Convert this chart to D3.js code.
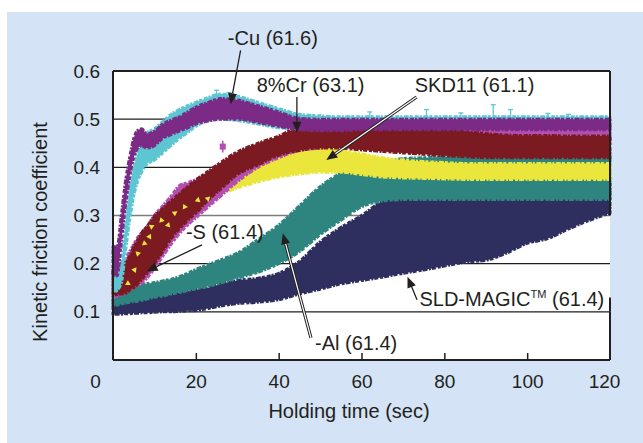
<!DOCTYPE html>
<html><head><meta charset="utf-8">
<script src="https://cdn.jsdelivr.net/npm/d3@7"></script>
<style>
body{margin:0;background:#fff}
svg{display:block}
text{font-family:"Liberation Sans",Arial,Helvetica,sans-serif;fill:#231f20}
</style></head>
<body><svg id="c" width="643" height="443"></svg>
<script>
// ---- data (time in sec, kinetic friction coefficient) ----
const timeSec = [0,1,2,3,4,5,6,7,8,10,12,14,16,18,20,23,26,30,35,40,45,50,55,60,65,70,75,80,85,90,95,100,105,110,115,120];

const sldLo = [.095,.095,.095,.096,.096,.097,.097,.098,.098,.099,.100,.100,.101,.102,.103,.107,.112,.117,.120,.125,.137,.147,.158,.165,.172,.180,.187,.195,.203,.207,.222,.242,.252,.272,.290,.305];
const sldHi = [.125,.125,.126,.127,.128,.128,.129,.130,.130,.132,.134,.136,.140,.143,.146,.150,.158,.165,.170,.180,.205,.245,.275,.300,.330,.350,.360,.365,.370,.370,.370,.370,.370,.370,.370,.370];

const alLo = [.113,.114,.116,.118,.120,.121,.122,.124,.126,.130,.133,.137,.140,.144,.148,.153,.160,.170,.182,.200,.225,.260,.290,.318,.330,.333,.333,.333,.333,.333,.333,.333,.333,.333,.333,.333];
const alHi = [.148,.148,.149,.150,.151,.152,.154,.156,.158,.161,.164,.168,.173,.180,.188,.198,.208,.222,.250,.280,.320,.360,.388,.405,.412,.418,.420,.422,.423,.424,.424,.425,.425,.425,.425,.425];

const skdLo = [.130,.135,.140,.145,.155,.165,.180,.195,.205,.225,.240,.255,.270,.285,.310,.330,.345,.357,.370,.380,.386,.390,.390,.385,.380,.378,.377,.376,.375,.375,.375,.375,.375,.375,.375,.375];
const skdHi = [.160,.165,.175,.185,.200,.215,.230,.245,.255,.275,.290,.305,.320,.330,.350,.368,.385,.400,.415,.428,.440,.442,.435,.428,.420,.415,.412,.410,.408,.408,.408,.408,.408,.408,.408,.408];

const sLo = [.130,.132,.135,.140,.145,.150,.155,.160,.168,.190,.215,.240,.262,.280,.295,.318,.340,.370,.400,.420,.435,.440,.445,.447,.450,.452,.453,.455,.455,.456,.456,.457,.457,.457,.457,.457];
const sHi = [.190,.195,.200,.210,.225,.240,.255,.265,.275,.300,.320,.340,.362,.368,.375,.390,.405,.425,.445,.460,.470,.475,.478,.480,.482,.483,.484,.485,.485,.485,.485,.485,.485,.485,.485,.485];

const crLo = [.135,.136,.137,.138,.145,.150,.158,.168,.178,.200,.225,.252,.272,.290,.305,.332,.355,.385,.405,.425,.435,.440,.440,.436,.433,.430,.427,.424,.422,.420,.420,.420,.420,.420,.420,.420];
const crHi = [.185,.190,.200,.205,.215,.235,.250,.265,.275,.298,.315,.330,.345,.360,.373,.392,.410,.432,.450,.465,.485,.495,.498,.492,.490,.487,.483,.480,.475,.470,.467,.466,.466,.465,.465,.465];

const cuLo = [.140,.145,.160,.225,.290,.340,.372,.392,.405,.415,.430,.445,.460,.472,.485,.497,.500,.497,.490,.482,.480,.482,.485,.485,.485,.485,.485,.485,.485,.485,.485,.485,.485,.485,.485,.485];
const cuHi = [.180,.185,.200,.280,.355,.400,.430,.450,.470,.480,.495,.510,.520,.528,.535,.545,.552,.548,.535,.522,.510,.507,.505,.505,.505,.505,.505,.505,.505,.505,.505,.505,.505,.505,.505,.505];

const purpleLo = [.175,.175,.245,.320,.380,.420,.440,.445,.440,.445,.460,.468,.475,.482,.490,.496,.500,.500,.493,.485,.478,.476,.476,.478,.478,.478,.478,.478,.478,.478,.478,.478,.478,.478,.478,.478];
const purpleHi = [.235,.235,.300,.370,.420,.460,.477,.480,.470,.475,.490,.498,.505,.515,.525,.535,.543,.540,.528,.515,.502,.500,.500,.500,.500,.500,.500,.500,.500,.500,.500,.500,.500,.500,.500,.500];

// isolated points / error-bar spikes
const cuSpikeT = [25, 28, 62, 75.7, 84, 91.8, 96, 105, 110];
const cuSpikeV = [.560, .555, .515, .520, .513, .530, .520, .512, .510];
const skdSpeckT = [3.6, 5.2, 6, 7.6, 8.8, 9.3, 11.7, 13.3, 14.9, 17.3, 20.5, 22.9];
const skdSpeckV = [.159, .187, .221, .242, .256, .277, .290, .280, .305, .318, .332, .335];
const sOutlierT = [26.5];
const sOutlierV = [.443];

const xTicks = [0, 20, 40, 60, 80, 100, 120];
const yTicks = [0.1, 0.2, 0.3, 0.4, 0.5, 0.6];
const gridVals = [0.1, 0.2, 0.3, 0.4, 0.5];

// labels: text, text anchor (t, v), arrow start (t, v), arrow tip (t, v)
const labels = [
  {text: "-Cu (61.6)",   tx: 38.6, tv: 0.654, x1: 30.8, v1: 0.643, x2: 28.4, v2: 0.531, hollow: false},
  {text: "8%Cr (63.1)",  tx: 47.7, tv: 0.556, x1: 44.4, v1: 0.546, x2: 44.4, v2: 0.472, hollow: false},
  {text: "SKD11 (61.1)", tx: 87.3, tv: 0.556, x1: 73.3, v1: 0.546, x2: 51.5, v2: 0.415, hollow: true},
  {text: "-S (61.4)",    tx: 27.0, tv: 0.251, x1: 21.5, v1: 0.239, x2: 8.1,  v2: 0.184, hollow: false},
  {text: "-Al (61.4)",   tx: 58.7, tv: 0.021, x1: 47.8, v1: 0.046, x2: 41.0, v2: 0.263, hollow: true},
  {text: "SLD-MAGIC",    tx: 96.3, tv: 0.112, x1: 73.4, v1: 0.125, x2: 71.1, v2: 0.173, hollow: false, tm: true}
];

// ---- drawing ----
const svg = d3.select("#c");
const W = 643, H = 443;
const m = {left: 113, right: 610, top: 71, bottom: 360};

svg.append("rect").attr("x", 7).attr("y", 12).attr("width", W - 7).attr("height", H - 12).attr("fill", "#d4e3f5");
svg.append("rect").attr("x", m.left).attr("y", m.top).attr("width", m.right - m.left).attr("height", m.bottom - m.top).attr("fill", "#fff");

const x = d3.scaleLinear().domain([0, 120]).range([m.left, m.right]);
const y = d3.scaleLinear().domain([0, 0.6]).range([m.bottom, m.top]);

// gridlines
svg.append("g").selectAll("line").data(gridVals).join("line")
  .attr("x1", m.left).attr("x2", m.right)
  .attr("y1", d => y(d)).attr("y2", d => y(d))
  .attr("stroke", d => d === 0.3 ? "#7d7d7d" : "#1e1e1e")
  .attr("stroke-width", d => d === 0.3 ? 1.6 : 1.1);

const series = [
  {name: "SLD-MAGIC", lo: sldLo, hi: sldHi, color: "#2f2f5f"},
  {name: "-Al",       lo: alLo,  hi: alHi,  color: "#2e8580"},
  {name: "SKD11",     lo: skdLo, hi: skdHi, color: "#ebe63b"},
  {name: "-S",        lo: sLo,   hi: sHi,   color: "#b24fb0"},
  {name: "8%Cr",      lo: crLo,  hi: crHi,  color: "#7b1a20"},
  {name: "-Cu",       lo: cuLo,  hi: cuHi,  color: "#5ec6d2"},
  {name: "Cu-base",   lo: purpleLo, hi: purpleHi, color: "#7b2a86"}
];

const area = d3.area()
  .x((d, i) => x(timeSec[i]))
  .y0(d => y(d[0]))
  .y1(d => y(d[1]))
  .curve(d3.curveMonotoneX);

const gData = svg.append("g");
series.forEach(s => {
  const pts = s.lo.map((v, i) => [v, s.hi[i]]);
  gData.append("path").datum(pts)
    .attr("d", area)
    .attr("fill", s.color)
    .attr("stroke", s.color)
    .attr("stroke-width", 3)
    .attr("stroke-dasharray", "4 1 2 1.5 5 1 3 2")
    .attr("stroke-linejoin", "round");
  if (s.name === "-S") {
    sOutlierT.forEach((t, i) => {
      gData.append("line").attr("x1", x(t)).attr("x2", x(t))
        .attr("y1", y(sOutlierV[i] - 0.012)).attr("y2", y(sOutlierV[i] + 0.012))
        .attr("stroke", s.color).attr("stroke-width", 1.5);
      gData.append("rect").attr("x", x(t) - 3).attr("y", y(sOutlierV[i]) - 3)
        .attr("width", 6).attr("height", 6).attr("fill", s.color);
    });
  }
  if (s.name === "8%Cr") {
    gData.append("g").selectAll("path").data(skdSpeckT).join("path")
      .attr("transform", (d, i) => `translate(${x(d)},${y(skdSpeckV[i])}) rotate(${i * 37})`)
      .attr("d", d3.symbol(d3.symbolTriangle, 14))
      .attr("fill", "#ebe63b");
  }
  if (s.name === "-Cu") {
    cuSpikeT.forEach((t, i) => {
      gData.append("line").attr("x1", x(t)).attr("x2", x(t))
        .attr("y1", y(0.500)).attr("y2", y(cuSpikeV[i]))
        .attr("stroke", s.color).attr("stroke-width", 1.3);
      gData.append("line").attr("x1", x(t) - 2.5).attr("x2", x(t) + 2.5)
        .attr("y1", y(cuSpikeV[i])).attr("y2", y(cuSpikeV[i]))
        .attr("stroke", s.color).attr("stroke-width", 1.3);
    });
  }
});

// plot frame
const frame = svg.append("g").attr("stroke", "#231f20").attr("stroke-width", 2).attr("fill", "none");
frame.append("line").attr("x1", m.left).attr("x2", m.right).attr("y1", m.top).attr("y2", m.top);
frame.append("line").attr("x1", m.left).attr("x2", m.right).attr("y1", m.bottom).attr("y2", m.bottom);
frame.append("line").attr("x1", m.left).attr("x2", m.left).attr("y1", m.top).attr("y2", m.bottom);
frame.append("line").attr("x1", m.right).attr("x2", m.right).attr("y1", m.top).attr("y2", y(0.3));
frame.append("line").attr("x1", m.right).attr("x2", m.right).attr("y1", y(0.13)).attr("y2", y(0.1));
frame.append("line").attr("x1", m.right).attr("x2", m.right).attr("y1", y(0.1)).attr("y2", m.bottom);

// x axis
const xAxis = svg.append("g").attr("transform", `translate(0,${m.bottom})`)
  .call(d3.axisBottom(x).tickValues(xTicks).tickSizeInner(-7).tickSizeOuter(0).tickPadding(15));
xAxis.select(".domain").remove();
xAxis.selectAll(".tick line").attr("stroke", "#231f20").attr("stroke-width", 1.5)
  .attr("opacity", d => (d === 0 || d === 120) ? 0 : 1);
xAxis.selectAll(".tick text").attr("font-size", 19).attr("fill", "#231f20")
  .attr("font-family", "Liberation Sans, Arial, sans-serif")
  .attr("dx", d => d === 0 ? -18 : (d === 120 ? -6 : 0));

// y axis
const yAxis = svg.append("g").attr("transform", `translate(${m.left},0)`)
  .call(d3.axisLeft(y).tickValues(yTicks).tickSize(0).tickPadding(13).tickFormat(d3.format(".1f")));
yAxis.select(".domain").remove();
yAxis.selectAll(".tick text").attr("font-size", 19).attr("fill", "#231f20")
  .attr("font-family", "Liberation Sans, Arial, sans-serif");

// axis titles
svg.append("text").attr("x", 349).attr("y", 418).attr("text-anchor", "middle")
  .attr("font-size", 20).text("Holding time (sec)");
svg.append("text").attr("transform", `translate(47,${232}) rotate(-90)`).attr("text-anchor", "middle")
  .attr("font-size", 20).text("Kinetic friction coefficient");

// annotations
const gAnn = svg.append("g");
labels.forEach(l => {
  const X1 = x(l.x1), Y1 = y(l.v1), X2 = x(l.x2), Y2 = y(l.v2);
  const ang = Math.atan2(Y2 - Y1, X2 - X1);
  const hl = 11, hw = 4.5;
  const bx = X2 - hl * Math.cos(ang), by = Y2 - hl * Math.sin(ang);
  if (l.hollow) {
    gAnn.append("line").attr("x1", X1).attr("y1", Y1).attr("x2", bx).attr("y2", by)
      .attr("stroke", "#231f20").attr("stroke-width", 3.2);
    gAnn.append("line").attr("x1", X1).attr("y1", Y1).attr("x2", bx).attr("y2", by)
      .attr("stroke", "#fff").attr("stroke-width", 1.2);
  } else {
    gAnn.append("line").attr("x1", X1).attr("y1", Y1).attr("x2", bx).attr("y2", by)
      .attr("stroke", "#231f20").attr("stroke-width", 1.3);
  }
  const px = -Math.sin(ang), py = Math.cos(ang);
  gAnn.append("path")
    .attr("d", `M${X2},${Y2}L${bx + px * hw},${by + py * hw}L${bx - px * hw},${by - py * hw}Z`)
    .attr("fill", "#231f20");
  const t = gAnn.append("text").attr("x", x(l.tx)).attr("y", y(l.tv))
    .attr("text-anchor", "middle").attr("font-size", 20);
  if (l.tm) {
    t.append("tspan").text(l.text);
    t.append("tspan").attr("font-size", 11).attr("dy", -8).text("TM");
    t.append("tspan").attr("dy", 8).text(" (61.4)");
  } else {
    t.text(l.text);
  }
});
</script>
</body></html>
